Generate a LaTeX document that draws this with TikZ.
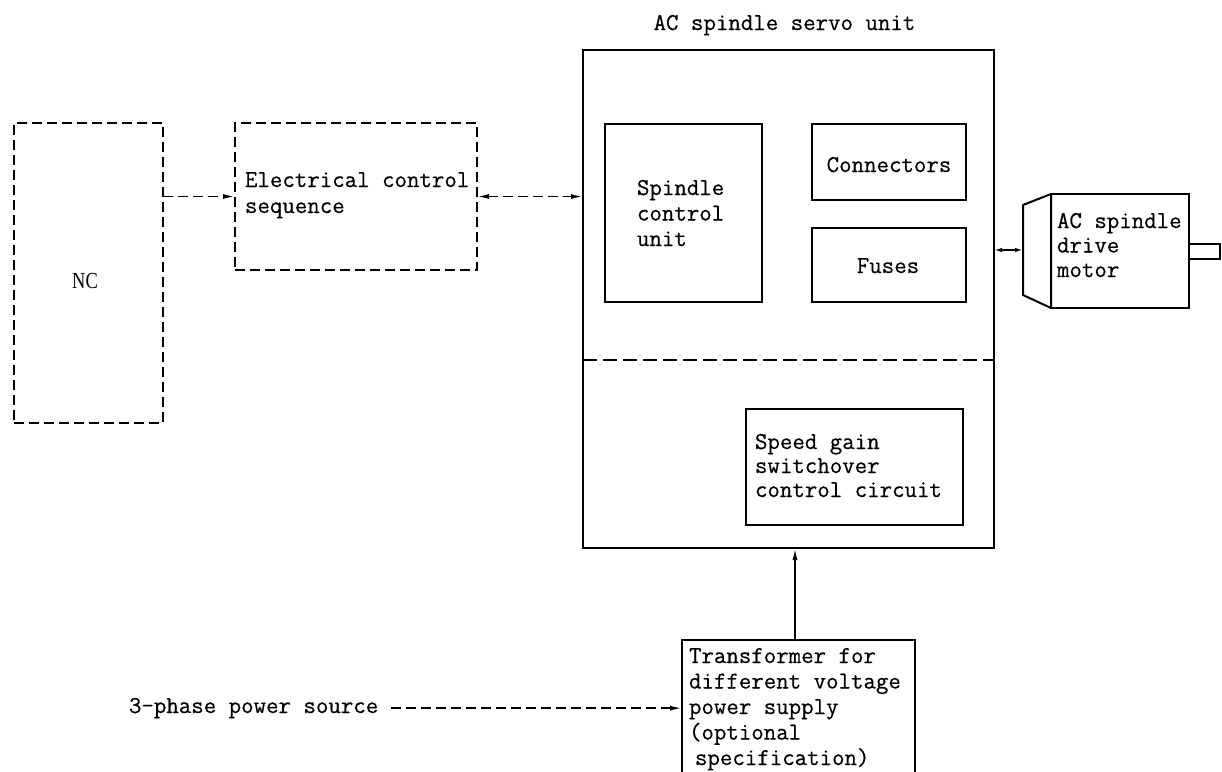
\documentclass[tikz,border=0pt]{standalone}
\usepackage{fontspec}
\usepackage{graphicx}
\setmonofont[FakeBold=0.5]{Latin Modern Mono}
\newfontfamily\ncfont{Liberation Serif}
\usetikzlibrary{arrows.meta,calc}
\newcommand\mlin[2]{\fontsize{24.2pt}{#1}\selectfont\begin{tabular}[t]{@{}l@{}}#2\end{tabular}}
\begin{document}
\begin{tikzpicture}[x=1pt,y=-1pt,
  box/.style={draw, line width=2pt, inner sep=0pt, outer sep=0pt, anchor=north west},
  dbox/.style={box, line width=1.7pt, dash pattern=on 10pt off 5pt},
  txt/.style={inner sep=0pt, outer sep=0pt, font=\ttfamily\fontsize{24.2pt}{25.5pt}\selectfont, anchor=base west},
  arr/.style={line width=1.7pt, -{Latex[length=12pt,width=5pt]}},
  darr/.style={arr, dash pattern=on 10pt off 5pt},
  darrb/.style={line width=1.7pt, dash pattern=on 10pt off 5pt, {Latex[length=12pt,width=5pt]}-{Latex[length=12pt,width=5pt]}},
  sarrb/.style={line width=1.7pt, {Latex[length=8pt,width=4.5pt]}-{Latex[length=8pt,width=4.5pt]}},
  divider/.style={line width=1.7pt, dash pattern=on 14pt off 6pt}]
\useasboundingbox (0,0) rectangle (1222,771);

% boxes
\node[dbox, minimum width=149pt, minimum height=300pt] (nc) at (14,123) {};
\node[dbox, minimum width=242pt, minimum height=147pt] (elec) at (235,123) {};
\node[box, minimum width=411pt, minimum height=498pt] (servo) at (583,50) {};
\node[box, minimum width=157pt, minimum height=178pt] (scu) at (605,124) {};
\node[box, minimum width=154pt, minimum height=76pt] (conn) at (812,124) {};
\node[box, minimum width=154pt, minimum height=74pt] (fuse) at (812,228) {};
\node[box, minimum width=217pt, minimum height=116pt] (speed) at (746,409) {};
\node[box, minimum width=138pt, minimum height=114pt] (motor) at (1051,194) {};
\node[box, minimum width=31pt, minimum height=15pt, anchor=west] (shaft) at (motor.east) {};
\node[box, minimum width=233pt, minimum height=160pt] (tr) at (682,640) {};

% motor front
\coordinate (fa) at (1023,205);
\coordinate (fb) at (1023,295);
\coordinate (mf) at (1023,250);
\draw[line width=2pt, line join=round] (fa) -- (motor.north west) -- (motor.south west) -- (fb) -- cycle;

% texts
\node[txt, anchor=base] (title) at (784.5,30) {AC spindle servo unit};
\node[inner sep=0pt, anchor=base] (nclabel) at (85,288) {\ncfont\fontsize{23pt}{23pt}\selectfont\scalebox{0.8}[1]{NC}};
\node[txt] (electxt) at (245,187) {\mlin{26pt}{Electrical control\\sequence}};
\node[txt] (scutxt) at (637,195) {\mlin{25.5pt}{Spindle\\control\\unit}};
\node[txt, anchor=base] (conntxt) at (889,172) {Connectors};
\node[txt, anchor=base] (fusetxt) at (888,273) {Fuses};
\node[txt] (speedtxt) at (755,449) {\mlin{24pt}{Speed gain\\switchover\\control circuit}};
\node[txt] (motortxt) at (1057,228) {\mlin{24.5pt}{AC spindle\\drive\\motor}};
\node[txt] (trtxt) at (689,663) {\mlin{25.5pt}{Transformer for\\different voltage\\power supply\\(optional\\\hspace*{6pt}specification)}};
\node[txt] (ph) at (129,713) {3-phase power source};

% divider inside servo unit
\coordinate (div) at (583,360);
\draw[divider] (servo.west |- div) -- (servo.east |- div);

% connectors
\draw[darr] (nc.east |- elec.west) -- (elec.west);
\draw[darrb] (elec.east) -- (elec.east -| servo.west);
\draw[sarrb] (servo.east |- mf) -- (mf);
\coordinate (tra) at (795,640);
\draw[arr] (tra) -- (tra |- servo.south);
\draw[darr] ([xshift=13pt]ph.east) -- (ph.east -| tr.west);
\end{tikzpicture}
\end{document}
